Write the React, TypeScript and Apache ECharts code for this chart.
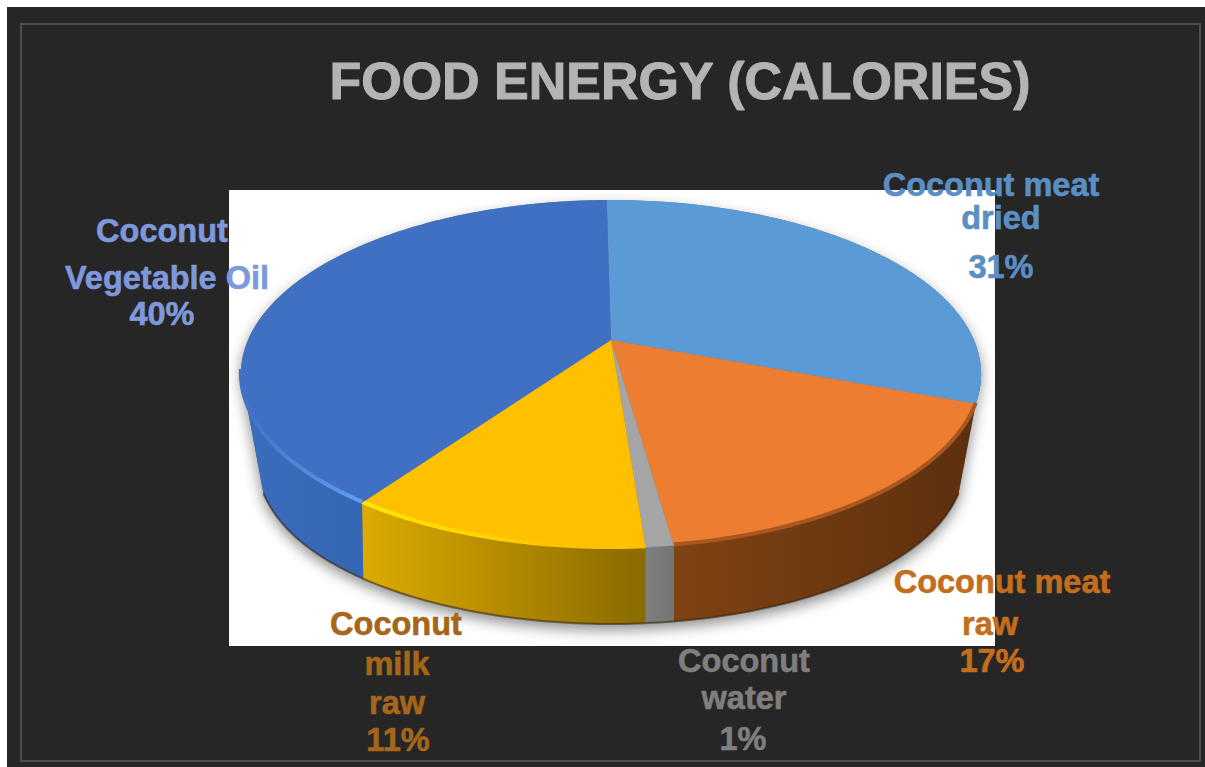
import React, { useEffect, useRef } from "react";
import * as echarts from "echarts";

// Share of food energy per coconut product, clockwise from twelve o'clock.
const productNames = ["Coconut meat dried", "Coconut meat raw", "Coconut water", "Coconut milk raw", "Coconut Vegetable Oil"];
const sharePercent = [31, 17, 1, 11, 40];
const labelWords = [
  ["Coconut meat", "dried"],
  ["Coconut meat", "raw"],
  ["Coconut", "water"],
  ["Coconut", "milk", "raw"],
  ["Coconut", "Vegetable Oil"],
];
const chartTitle = "FOOD ENERGY (CALORIES)";

const topColors = ["#5b9bd5", "#ed7d31", "#a5a5a5", "#ffc000", "#4070c2"];
const rimColors = ["#5b9bd5", "#a9561f", "#a5a5a5", "#ffe800", "#5f9ff5"];
const wallColors = [
  ["#3f78ad", "#24496e"],
  ["#7f4313", "#5c2f0e"],
  ["#808080", "#757575"],
  ["#dcab00", "#8a6a00"],
  ["#3a6dbc", "#3566b4"],
];
const labelColors = ["#5b8fc4", "#c46d1c", "#7f7f7f", "#a5661a", "#7f98dc"];
// Centre x and middle y of every text line of each label, last entry is the percentage.
const labelSpots = [
  [[991, 185], [1001, 218], [1001, 267]],
  [[1002, 582], [990, 624], [992, 661]],
  [[744, 661], [744, 698], [743, 739]],
  [[396, 624], [397, 664], [397, 703], [398, 740]],
  [[162, 231], [167, 278], [162, 314]],
];

// Perspective of the tilted disc: turns an angle on the disc into page pixels.
const APEX_X = 611;
const APEX_Y = 340;
const RADIUS = 363;
const TILT_A = 100.9;
const TILT_C = -0.1954;
const DEPTH = 76;
const BOTTOM_INSET = 0.045;
const START_DEG = -0.8;
const WALL_FROM = 101;
const WALL_TO = 259;
const LOWER_FROM = 115;
const LOWER_TO = 245;
const HIGHLIGHT_FROM = 235;

const project = (deg: number): [number, number] => {
  const t = (deg * Math.PI) / 180;
  const u = Math.sin(t);
  const v = -Math.cos(t);
  const den = 1 + TILT_C * v;
  return [APEX_X + (RADIUS * u) / den, (TILT_A * v + APEX_Y) / den];
};

// Lower edge of the disc's side: the bevel pulls it inwards towards both flanks,
// and past its tangent angles the outline runs straight up to the rim.
const projectLower = (deg: number): [number, number] => {
  const d = Math.min(LOWER_TO, Math.max(LOWER_FROM, deg));
  const [x, y] = project(d);
  const u = Math.sin((d * Math.PI) / 180);
  return [APEX_X + (x - APEX_X) * (1 - BOTTOM_INSET * u ** 4), y + DEPTH];
};

const arcPoints = (from: number, to: number, at = project): [number, number][] => {
  const steps = Math.max(2, Math.ceil(Math.abs(to - from)));
  const out: [number, number][] = [];
  for (let i = 0; i <= steps; i++) out.push(at(from + ((to - from) * i) / steps));
  return out;
};

const total = sharePercent.reduce((a, b) => a + b, 0);
const sliceRange = (index: number): [number, number] => {
  const before = sharePercent.slice(0, index).reduce((a, b) => a + b, 0);
  return [
    START_DEG + (before / total) * 360,
    START_DEG + ((before + sharePercent[index]) / total) * 360,
  ];
};

const sliceData = sharePercent.map((v, i) => ({ name: productNames[i], value: [v] }));

const renderShadow = () => {
  const pts = [
    ...arcPoints(WALL_TO, 360),
    ...arcPoints(0, WALL_FROM),
    ...arcPoints(LOWER_FROM, LOWER_TO, projectLower),
  ];
  return {
    type: "polygon",
    silent: true,
    shape: { points: pts },
    style: { fill: "#777777", shadowBlur: 14, shadowColor: "rgba(0,0,0,0.45)", shadowOffsetY: 6 },
  };
};

const renderWall = (params: any) => {
  const i = params.dataIndex;
  const [a, b] = sliceRange(i);
  const from = Math.max(a, WALL_FROM);
  const to = Math.min(b, WALL_TO);
  if (to <= from) return { type: "group", children: [] };
  const upper = arcPoints(from, to);
  const lower = arcPoints(to, from, projectLower);
  return {
    type: "group",
    children: [
      {
        type: "polygon",
        silent: true,
        shape: { points: [...upper, ...lower] },
        style: {
          fill: new echarts.graphic.LinearGradient(0, 0, 1, 0, [
            { offset: 0, color: wallColors[i][0] },
            { offset: 1, color: wallColors[i][1] },
          ]),
        },
      },
      {
        type: "polyline",
        silent: true,
        shape: { points: lower },
        style: { fill: "none", stroke: "rgba(50,30,10,0.55)", lineWidth: 2 },
      },
    ],
  };
};

const renderTop = (params: any) => {
  const i = params.dataIndex;
  const [a, b] = sliceRange(i);
  const rim = arcPoints(a, b);
  const from = Math.max(a, WALL_FROM);
  const to = Math.min(b, HIGHLIGHT_FROM);
  const children: any[] = [
    {
      type: "polygon",
      silent: true,
      shape: { points: [[APEX_X, APEX_Y], ...rim] },
      style: { fill: topColors[i] },
    },
  ];
  if (to > from || i === 4) {
    if (i !== 0 && i !== 2) {
      // The bevel's highlight is strongest next to the yellow slice and fades away from it.
      const stops =
        i === 3
          ? [{ offset: 0, color: rimColors[3] }, { offset: 0.75, color: topColors[3] }, { offset: 1, color: topColors[3] }]
          : i === 4
            ? [{ offset: 0, color: topColors[4] }, { offset: 1, color: rimColors[4] }]
            : [{ offset: 0, color: rimColors[1] }, { offset: 1, color: rimColors[1] }];
      const pts = i === 4 ? arcPoints(a, HIGHLIGHT_FROM + 25) : arcPoints(from, to);
      children.push({
        type: "polyline",
        silent: true,
        shape: { points: pts.map(([x, y]) => [x, y - 1]) },
        style: { fill: "none", stroke: new echarts.graphic.LinearGradient(0, 0, 1, 0, stops), lineWidth: 4 },
      });
    }
  }
  return { type: "group", children };
};

const renderLabel = (params: any, api: any) => {
  const i = params.dataIndex;
  const lines = [...labelWords[i], `${api.value(0)}%`];
  return {
    type: "group",
    children: lines.map((text, k) => ({
      type: "text",
      silent: true,
      style: {
        text,
        x: labelSpots[i][k][0],
        y: labelSpots[i][k][1],
        align: "center",
        verticalAlign: "middle",
        lineHeight: 30,
        fill: labelColors[i],
        stroke: labelColors[i],
        lineWidth: 0.6,
        font: 'bold 32.5px "Liberation Sans"',
      },
    })),
  };
};

export default function App() {
  const ref = useRef<HTMLDivElement>(null);
  useEffect(() => {
    const chart = echarts.init(ref.current!, undefined, { renderer: "svg" });
    chart.setOption({
      animation: false,
      backgroundColor: "#ffffff",
      title: {
        text: chartTitle,
        left: 675,
        top: 50,
        textAlign: "center",
        textStyle: {
          color: "#b4b4b4",
          fontSize: 52,
          fontWeight: "bold",
          fontFamily: "Liberation Sans",
          textBorderColor: "#b4b4b4",
          textBorderWidth: 1,
        },
      },
      graphic: [
        { type: "rect", silent: true, shape: { x: 7, y: 7, width: 1198, height: 760 }, style: { fill: "#262626" } },
        {
          type: "rect",
          silent: true,
          shape: { x: 21, y: 24, width: 1179, height: 737 },
          style: { fill: "none", stroke: "#4d4d4d", lineWidth: 2 },
        },
        { type: "rect", silent: true, shape: { x: 229, y: 190, width: 766, height: 456 }, style: { fill: "#ffffff" } },
      ],
      series: [
        { type: "custom", coordinateSystem: "none", z: 1, silent: true, data: [[total]], renderItem: renderShadow },
        { type: "custom", coordinateSystem: "none", z: 2, silent: true, data: sliceData, renderItem: renderWall },
        { type: "custom", coordinateSystem: "none", z: 3, silent: true, data: sliceData, renderItem: renderTop },
        { type: "custom", coordinateSystem: "none", z: 4, silent: true, data: sliceData, renderItem: renderLabel },
      ],
    });
    return () => chart.dispose();
  }, []);
  return <div ref={ref} style={{ position: "absolute", left: 0, top: 0, width: 1205, height: 767 }} />;
}
